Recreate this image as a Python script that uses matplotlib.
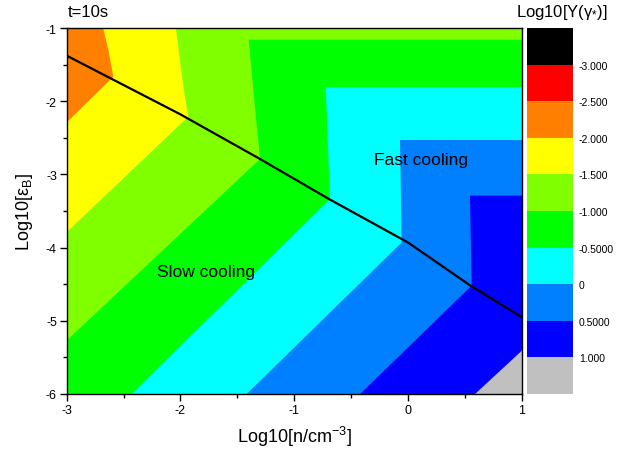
import matplotlib
matplotlib.use('Agg')
import matplotlib.pyplot as plt
from matplotlib.colors import ListedColormap, BoundaryNorm
from matplotlib.cm import ScalarMappable
from matplotlib.ticker import MultipleLocator

plt.rcParams['font.family'] = ['Liberation Sans', 'DejaVu Sans']
plt.rcParams['mathtext.fontset'] = 'custom'
plt.rcParams['mathtext.rm'] = 'Liberation Sans'
plt.rcParams['mathtext.it'] = 'Liberation Sans:italic'
plt.rcParams['axes.unicode_minus'] = False

# contour levels of log10 Y and the colours (black below -3, grey above 1)
levels = [-3.0, -2.5, -2.0, -1.5, -1.0, -0.5, 0.0, 0.5, 1.0]
level_text = ['-3.000', '-2.500', '-2.000', '-1.500', '-1.000', '-0.5000', '0', '0.5000', '1.000']
inner_colors = ['#FF0000', '#FF8000', '#FFFF00', '#80FF00', '#00FF00',
                '#00FFFF', '#0080FF', '#0000FF']
under_color = '#000000'
over_color = '#C0C0C0'

# boundaries of the regions log10 Y >= level
# (x = log10 n, y = log10 eps_B)
bnd_x = {
    -2.0: [-2.68, -2.635, -2.59, -3.0],
    -1.5: [-2.04, -2.0, -1.96, -1.93, -3.0],
    -1.0: [1.0, -1.40, -1.35, -1.30, -3.0],
    -0.5: [1.0, -0.723, -0.685, -2.43],
    0.0: [1.0, -0.07, -0.055, -1.418],
    0.5: [1.0, 0.545, 0.56, -0.42],
    1.0: [1.0, 0.59],
}
bnd_y = {
    -2.0: [-1.0, -1.29, -1.665, -2.29],
    -1.5: [-1.0, -1.5, -1.95, -2.21, -3.79],
    -1.0: [-1.16, -1.16, -2.0, -2.79, -5.27],
    -0.5: [-1.81, -1.81, -3.336, -6.0],
    0.0: [-2.53, -2.53, -3.93, -6.0],
    0.5: [-3.29, -3.29, -4.52, -6.0],
    1.0: [-5.41, -6.0],
}
base_level = -2.5  # value band of the top-left corner

# slow / fast cooling dividing line
cool_x = [-3.0, -2.0, -1.3, -0.69, 0.0, 0.55, 1.0]
cool_y = [-1.378, -2.18, -2.79, -3.34, -3.93, -4.52, -4.95]

xlim = (-3, 1)
ylim = (-6, -1)

fig = plt.figure(figsize=(6.31, 4.56), dpi=100)
ax = fig.add_axes([0.1057, 0.1338, 0.7211, 0.8026])
cax = fig.add_axes([0.8357, 0.1338, 0.0729, 0.8026])

cmap = ListedColormap(inner_colors)
cmap.set_under(under_color)
cmap.set_over(over_color)
norm = BoundaryNorm(levels, cmap.N)

# background band, then each higher band painted on top
ax.fill([xlim[0], xlim[1], xlim[1], xlim[0]], [ylim[0], ylim[0], ylim[1], ylim[1]],
        color=cmap(norm(base_level)), lw=0)
close_x = [xlim[0] - 0.5, xlim[1] + 0.5, xlim[1] + 0.5]
close_y = [ylim[0] - 0.5, ylim[0] - 0.5, ylim[1] + 0.5]
for lev in levels[2:]:
    col = cmap(norm(lev + 0.01))
    ax.fill(bnd_x[lev] + close_x, bnd_y[lev] + close_y, color=col, lw=0, antialiased=True)

ax.plot(cool_x, cool_y, color='black', lw=1.6)

ax.text(-2.21, -4.33, 'Slow cooling', fontsize=12.5, ha='left', va='center')
ax.text(-0.30, -2.79, 'Fast cooling', fontsize=12.5, ha='left', va='center')

ax.set_xlim(xlim)
ax.set_ylim(ylim)
ax.xaxis.set_major_locator(MultipleLocator(1))
ax.xaxis.set_minor_locator(MultipleLocator(0.5))
ax.yaxis.set_major_locator(MultipleLocator(1))
ax.yaxis.set_minor_locator(MultipleLocator(0.5))
ax.tick_params(which='major', direction='out', length=5, width=1, labelsize=9, pad=2)
ax.tick_params(which='minor', direction='out', length=3, width=1)
for s in ax.spines.values():
    s.set_linewidth(1)
ax.set_xlabel('Log10[n/cm$^{\\mathregular{-3}}$]', fontsize=13, labelpad=6)
ax.set_ylabel('Log10[ε$_{\\mathregular{B}}$]', fontsize=13, labelpad=8)

fig.text(0.108, 0.972, 't=10s', fontsize=12, ha='left', va='center')
fig.text(0.818, 0.972, 'Log10[Y(γ$_{\\mathregular{*}}$)]', fontsize=12, ha='left', va='center')

cb = fig.colorbar(ScalarMappable(norm=norm, cmap=cmap), cax=cax, extend='both',
                  extendrect=True, extendfrac='auto', ticks=levels)
cb.ax.invert_yaxis()
cb.outline.set_visible(False)
cb.ax.tick_params(length=0, labelsize=7.5, pad=4)
cb.set_ticklabels(level_text)

fig.savefig('out.png', dpi=100)
